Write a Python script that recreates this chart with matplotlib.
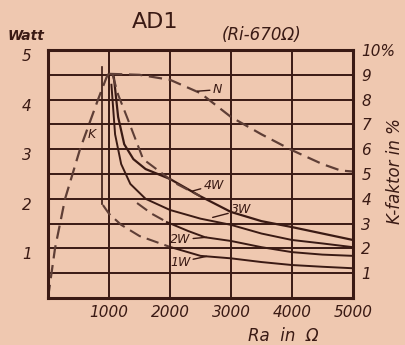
import numpy as np
import matplotlib
matplotlib.use("Agg")
import matplotlib.pyplot as plt

# --- data ---
ra_ticks = [0, 1000, 2000, 3000, 4000, 5000]
ra_labels = ["", "1000", "2000", "3000", "4000", "5000"]
watt_labels = [1, 2, 3, 4, 5]
pct_ticks = [1, 2, 3, 4, 5, 6, 7, 8, 9, 10]
pct_labels = ["1", "2", "3", "4", "5", "6", "7", "8", "9", "10%"]

# Sprechleistung N (Watt, left axis)
n_ra = [1000, 1500, 2000, 2500, 3000, 3500, 4000, 4500, 4800, 5000]
n_w = [4.52, 4.5, 4.4, 4.13, 3.65, 3.3, 2.98, 2.7, 2.57, 2.55]

# curve K from origin (Watt, left axis)
k_ra = [0, 115, 280, 525, 820, 960, 1010]
k_w = [0, 1.0, 2.0, 3.0, 4.0, 4.45, 4.55]

# vertical mark near 900 Ohm
mark_ra = [885, 885]
mark_w = [1.9, 4.65]

# Klirrfaktor (%, right axis)
k4_ra = [1080, 1150, 1250, 1400, 1600, 2000, 2500, 3000, 3500, 4000, 4500, 5000]
k4_pct = [8.9, 7.3, 6.2, 5.6, 5.2, 4.8, 4.1, 3.47, 3.1, 2.86, 2.6, 2.34]

k3_ra = [1040, 1100, 1200, 1350, 1600, 2000, 2500, 3000, 3500, 4000, 4500, 5000]
k3_pct = [8.6, 6.6, 5.4, 4.6, 4.0, 3.55, 3.2, 2.95, 2.6, 2.34, 2.2, 2.05]

kd_ra = [1060, 1150, 1310, 1560, 2080, 2500]
kd_pct = [9.0, 8.2, 7.2, 5.6, 4.64, 4.1]

k2_ra = [1460, 1700, 1950, 2300, 2575, 3000, 3500, 4000, 4500, 5000]
k2_pct = [3.83, 3.4, 3.06, 2.7, 2.45, 2.3, 2.05, 1.85, 1.75, 1.7]

k1_ra = [900, 1000, 1200, 1500, 2000, 2500, 3000, 3500, 4000, 4500, 5000]
k1_pct = [3.75, 3.4, 2.95, 2.5, 2.06, 1.7, 1.6, 1.45, 1.33, 1.26, 1.2]

bg = "#efc8b0"
ink = "#3a1a14"
dash_c = "#5e3e36"
fam = ["Liberation Sans Narrow", "DejaVu Sans"]

fig = plt.figure(figsize=(4.05, 3.45), dpi=100, facecolor=bg)
ax = fig.add_axes([0.1185, 0.1362, 0.753, 0.7188])
ax.set_facecolor(bg)
ax.set_xlim(0, 5000)
ax.set_ylim(0, 5)
ax.set_xticks(ra_ticks)
ax.set_xticklabels(ra_labels, fontstyle="italic", family=fam, fontsize=11, color=ink)
ax.set_yticks(np.arange(0, 5.01, 0.5))
ax.set_yticklabels([])
ax.tick_params(length=0, pad=5)
ax.grid(True, color=ink, lw=1.4)
for s in ax.spines.values():
    s.set_color(ink)
    s.set_linewidth(2.2)

ax2 = ax.twinx()
ax2.set_ylim(0, 10)
ax2.set_yticks(pct_ticks)
ax2.set_yticklabels(pct_labels, fontstyle="italic", family=fam, fontsize=11, color=ink)
ax2.tick_params(length=0, pad=6)
for s in ax2.spines.values():
    s.set_visible(False)

# power curves
ax.plot(n_ra, n_w, color=dash_c, lw=1.6, ls=(0, (6, 3)))
ax.plot(k_ra, k_w, color=dash_c, lw=1.6, ls=(0, (6, 3)))
ax.plot(mark_ra, mark_w, color=ink, lw=1.2)

# distortion curves
ax2.plot(k4_ra, k4_pct, color=ink, lw=1.6)
ax2.plot(k3_ra, k3_pct, color=ink, lw=1.4)
ax2.plot(kd_ra, kd_pct, color=dash_c, lw=1.5, ls=(0, (6, 3)))
ax2.plot(k2_ra[:3], k2_pct[:3], color=dash_c, lw=1.5, ls=(0, (6, 3)))
ax2.plot(k2_ra[2:], k2_pct[2:], color=ink, lw=1.4)
ax2.plot(k1_ra[:5], k1_pct[:5], color=dash_c, lw=1.5, ls=(0, (6, 3)))
ax2.plot(k1_ra[4:], k1_pct[4:], color=ink, lw=1.4)

# left axis numbers sit a little below their lines
for w in watt_labels:
    ax.text(-0.07, w - 0.13, str(w), transform=ax.get_yaxis_transform(),
            ha="center", va="center", fontsize=11, fontstyle="italic",
            family=fam, color=ink)

lbl = dict(fontsize=9, fontstyle="italic", family=fam, color=ink)
arr = dict(arrowstyle="-", color=ink, lw=1.0, shrinkA=0, shrinkB=0)
ax.annotate("N", xy=(2450, 4.17), xytext=(2700, 4.2), ha="left", va="center",
            arrowprops=arr, **lbl)
ax.annotate("K", xy=(600, 3.3), xytext=(650, 3.3), ha="left", va="center", **lbl)
ax2.annotate("4W", xy=(2350, 4.3), xytext=(2550, 4.55), ha="left", va="center",
             arrowprops=arr, **lbl)
ax2.annotate("3W", xy=(2700, 3.25), xytext=(3000, 3.55), ha="left", va="center",
             arrowprops=arr, **lbl)
ax2.annotate("2W", xy=(2600, 2.45), xytext=(2000, 2.35), ha="left", va="center",
             arrowprops=arr, **lbl)
ax2.annotate("1W", xy=(2600, 1.68), xytext=(2000, 1.45), ha="left", va="center",
             arrowprops=arr, **lbl)

fig.text(0.383, 0.935, "AD1", ha="center", va="center", fontsize=16,
         fontweight="medium", family=fam, color=ink)
fig.text(0.647, 0.9, "(Ri-670Ω)", ha="center", va="center", fontsize=12,
         fontstyle="italic", family=fam, color=ink)
fig.text(0.065, 0.895, "Watt", ha="center", va="center", fontsize=10,
         fontstyle="italic", fontweight="bold", family=fam, color=ink)
fig.text(0.975, 0.505, "K-faktor in %", ha="center", va="center", rotation=90,
         fontsize=12, fontstyle="italic", family=fam, color=ink)
fig.text(0.70, 0.027, "Ra  in  Ω", ha="center", va="center", fontsize=12,
         fontstyle="italic", family=fam, color=ink)

fig.savefig("out.png", dpi=100, facecolor=bg)
